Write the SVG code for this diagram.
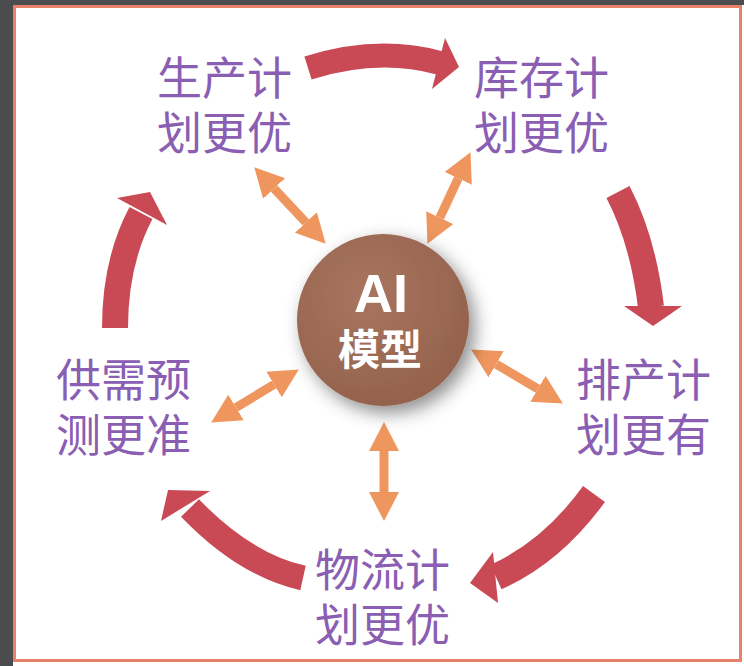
<svg xmlns="http://www.w3.org/2000/svg" width="744" height="666" viewBox="0 0 744 666">
<defs>
<style>
.lbl{font-family:"Liberation Sans","Noto Sans CJK SC",sans-serif;font-size:45px;fill:#8a5eb3;}
.red{fill:none;stroke:#c94a55;stroke-linecap:butt;}
.redh{fill:#c94a55;}
.org{stroke:#ef965f;stroke-width:9;fill:none;marker-start:url(#oh);marker-end:url(#oh);}
</style>
<marker id="oh" markerUnits="userSpaceOnUse" markerWidth="30" markerHeight="32" viewBox="0 -16 30 32" refX="0" refY="0" orient="auto-start-reverse">
<path d="M0,-15 L29,0 L0,15 z" fill="#ef965f"/>
</marker>
<radialGradient id="cg" cx="0.4" cy="0.35" r="0.7">
<stop offset="0" stop-color="#a8755f"/>
<stop offset="1" stop-color="#93614c"/>
</radialGradient>
<filter id="sh" x="-30%" y="-30%" width="160%" height="160%">
<feDropShadow dx="6" dy="7" stdDeviation="9" flood-color="#000" flood-opacity="0.45"/>
</filter>
</defs>
<rect x="0" y="0" width="744" height="666" fill="#ffffff"/>
<rect x="0" y="0" width="13" height="666" fill="#4b4c4e"/>
<rect x="0" y="0" width="744" height="5" fill="#4b4c4e"/>
<rect x="14.5" y="6.5" width="726" height="654" fill="none" stroke="#e9806a" stroke-width="3"/>

<g id="connectors">
<g id="cycle">
<path class="red" stroke-width="24" d="M308,68 Q378,46 440,63"/>
<polygon class="redh" points="445,38 459,67 432,89"/>
<path class="red" stroke-width="26" d="M618,192 Q643,240 651,307"/>
<polygon class="redh" points="624,306 653,326 682,306"/>
<path class="red" stroke-width="27" d="M594,494 Q552,552 496,577"/>
<polygon class="redh" points="493,552 470,583 498,603"/>
<path class="red" stroke-width="25" d="M303,578 Q245,565 190,508"/>
<polygon class="redh" points="168,490 161,521 210,491"/>
<path class="red" stroke-width="26" d="M115,328 Q115,262 141,213"/>
<polygon class="redh" points="150,192 117,198 167,225"/>
</g>
<g id="links">
<line class="org" x1="274.1" y1="188.5" x2="305.9" y2="222.5"/>
<line class="org" x1="458.2" y1="178.4" x2="439.8" y2="217.6"/>
<line class="org" x1="496.1" y1="364.2" x2="537.9" y2="388.8"/>
<line class="org" x1="274" y1="384.5" x2="236" y2="407.5"/>
<line class="org" x1="384" y1="451" x2="384" y2="492"/>
</g>
</g>

<g id="ai">
<circle cx="383" cy="320" r="86" fill="url(#cg)" filter="url(#sh)"/>
<text x="381" y="312" text-anchor="middle" font-family="Liberation Sans, sans-serif" font-weight="bold" font-size="54" fill="#ffffff">AI</text>
<text x="380" y="365" text-anchor="middle" font-family="Liberation Sans, Noto Sans CJK SC, sans-serif" font-weight="bold" font-size="42" fill="#ffffff">模型</text>
</g>
<g id="production"><text class="lbl" x="157" y="95">生产计</text><text class="lbl" x="157" y="150">划更优</text></g>
<g id="inventory"><text class="lbl" x="474" y="95">库存计</text><text class="lbl" x="474" y="150">划更优</text></g>
<g id="scheduling"><text class="lbl" x="576" y="397">排产计</text><text class="lbl" x="576" y="452">划更有</text></g>
<g id="forecast"><text class="lbl" x="56" y="397">供需预</text><text class="lbl" x="56" y="452">测更准</text></g>
<g id="logistics"><text class="lbl" x="315" y="587">物流计</text><text class="lbl" x="315" y="642">划更优</text></g>
</svg>
